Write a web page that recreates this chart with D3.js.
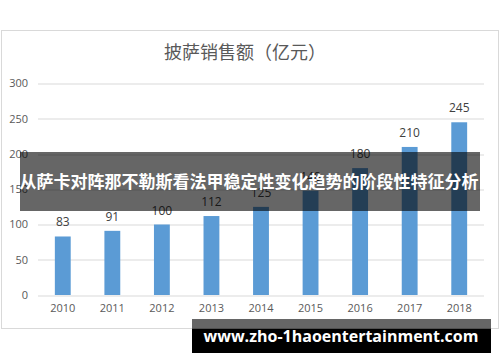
<!DOCTYPE html>
<html>
<head>
<meta charset="utf-8">
<script src="https://d3js.org/d3.v7.min.js"></script>
<style>
  html, body { margin: 0; padding: 0; background: #fff; }
  svg { display: block; }
</style>
</head>
<body>
<svg id="chart" width="500" height="362"></svg>
<script>
var years = ["2010", "2011", "2012", "2013", "2014", "2015", "2016", "2017", "2018"];
var sales = [83, 91, 100, 112, 125, 148, 180, 210, 245];
var yTicks = [0, 50, 100, 150, 200, 250, 300];
var title = "披萨销售额（亿元）";
var bannerText = "从萨卡对阵那不勒斯看法甲稳定性变化趋势的阶段性特征分析";
var siteText = "www.zho-1haoentertainment.com";

var margin = { top: 83.5, left: 38, right: 16, bottom: 67 };
var width = 500 - margin.left - margin.right;
var height = 362 - margin.top - margin.bottom;

var svg = d3.select("#chart");

// chart frame
svg.append("rect")
    .attr("x", 1.5).attr("y", 30.5)
    .attr("width", 497).attr("height", 298)
    .attr("fill", "#fff")
    .attr("stroke", "#d9d9d9");

svg.append("text")
    .attr("x", 245).attr("y", 59)
    .attr("text-anchor", "middle")
    .attr("fill", "#595959")
    .style("font-family", "'Noto Sans CJK SC', sans-serif")
    .style("font-size", "18px")
    .text(title);

var g = svg.append("g")
    .attr("transform", "translate(" + margin.left + "," + margin.top + ")");

var x = d3.scaleBand()
    .domain(years)
    .range([0, width])
    .paddingInner(0.68)
    .paddingOuter(0.34);

var y = d3.scaleLinear()
    .domain([0, 300])
    .range([height, 0]);

// gridlines
g.append("g")
    .selectAll("line")
    .data(yTicks)
    .enter().append("line")
    .attr("x1", 0).attr("x2", width)
    .attr("y1", function(d) { return Math.round(y(d)) + 0.5; })
    .attr("y2", function(d) { return Math.round(y(d)) + 0.5; })
    .attr("stroke", "#d9d9d9")
    .attr("stroke-width", 1);

// y tick labels
g.append("g")
    .selectAll("text")
    .data(yTicks)
    .enter().append("text")
    .attr("x", -10)
    .attr("y", function(d) { return y(d); })
    .attr("dy", "0.35em")
    .attr("text-anchor", "end")
    .attr("fill", "#595959")
    .style("font-family", "'Open Sans', sans-serif")
    .style("font-size", "11px")
    .text(function(d) { return d; });

// x labels
var xAxis = g.append("g")
    .attr("transform", "translate(0," + height + ")")
    .call(d3.axisBottom(x).tickSize(0).tickPadding(9));
xAxis.select(".domain").remove();
xAxis.selectAll("text")
    .attr("fill", "#595959")
    .style("font-family", "'Open Sans', sans-serif")
    .style("font-size", "11px");

// bars
g.append("g")
    .selectAll("rect")
    .data(sales)
    .enter().append("rect")
    .attr("x", function(d, i) { return x(years[i]); })
    .attr("y", function(d) { return y(d); })
    .attr("width", x.bandwidth())
    .attr("height", function(d) { return height - y(d); })
    .attr("fill", "#5b9bd5");

// value labels
g.append("g")
    .selectAll("text")
    .data(sales)
    .enter().append("text")
    .attr("x", function(d, i) { return x(years[i]) + x.bandwidth() / 2; })
    .attr("y", function(d) { return y(d) - 10; })
    .attr("text-anchor", "middle")
    .attr("fill", "#404040")
    .style("font-family", "'Open Sans', sans-serif")
    .style("font-size", "12px")
    .text(function(d) { return d; });

// overlay banner
svg.append("rect")
    .attr("x", 20).attr("y", 152)
    .attr("width", 460).attr("height", 59)
    .attr("fill", "#000")
    .attr("fill-opacity", 0.6);

svg.append("text")
    .attr("x", 249).attr("y", 182)
    .attr("dy", "0.35em")
    .attr("text-anchor", "middle")
    .attr("fill", "#fff")
    .style("font-family", "'Noto Sans CJK SC', sans-serif")
    .style("font-weight", "bold")
    .style("font-size", "17px")
    .text(bannerText);

// site banner
svg.append("rect")
    .attr("x", 192).attr("y", 319)
    .attr("width", 299).attr("height", 9.5)
    .attr("fill", "#666");
svg.append("rect")
    .attr("x", 192).attr("y", 328.5)
    .attr("width", 299).attr("height", 24.5)
    .attr("fill", "#000");

svg.append("text")
    .attr("x", 341).attr("y", 336)
    .attr("dy", "0.35em")
    .attr("text-anchor", "middle")
    .attr("fill", "#fff")
    .style("font-family", "'Open Sans', sans-serif")
    .style("font-weight", "bold")
    .style("font-size", "16px")
    .text(siteText);
</script>
</body>
</html>
